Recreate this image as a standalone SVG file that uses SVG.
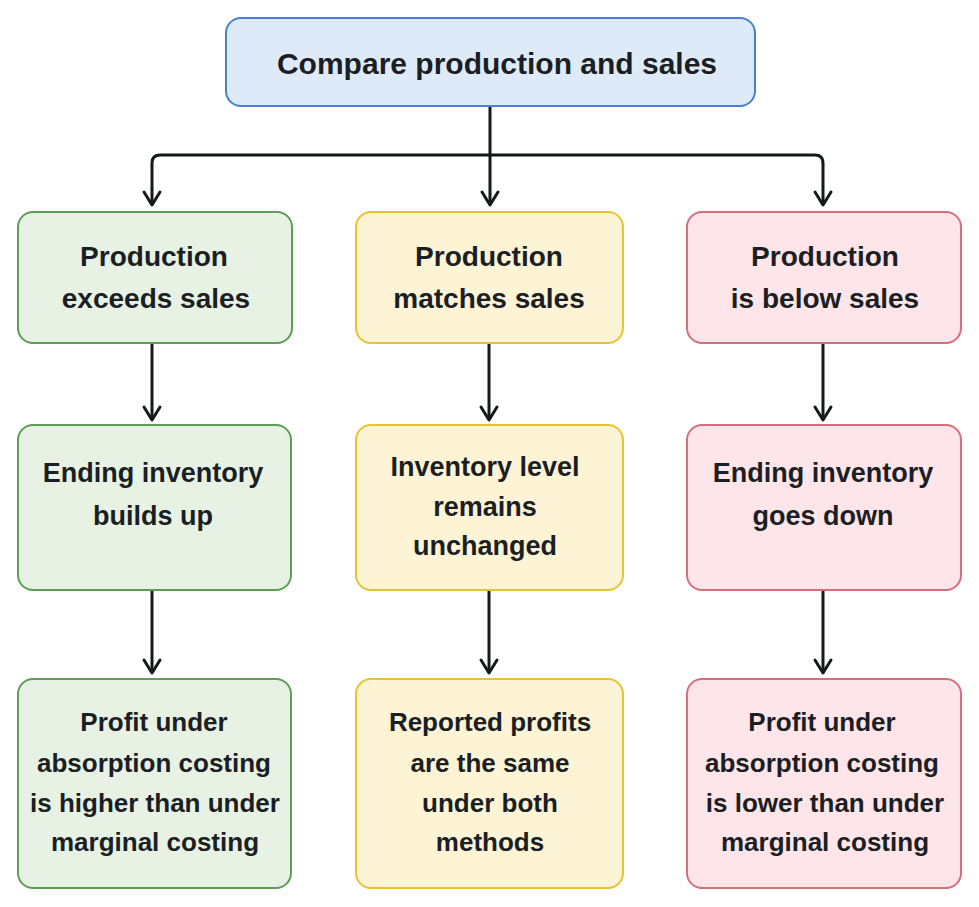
<svg xmlns="http://www.w3.org/2000/svg" width="979" height="907" viewBox="0 0 979 907">
<defs>
<style>
.t{font-family:"Liberation Sans",Arial,sans-serif;font-weight:bold;fill:#1b1f24;text-anchor:middle;font-size:26px}
.big{font-size:30px}
.r1{font-size:28px}
.r2{font-size:27px}
.blue{fill:#dfeaf9;stroke:#4a80cf;stroke-width:2}
.green{fill:#e7f2e4;stroke:#5c9f52;stroke-width:2}
.yellow{fill:#fdf3d5;stroke:#e8c330;stroke-width:2}
.pink{fill:#fde5e9;stroke:#d86d7c;stroke-width:2}
.c{fill:none;stroke:#16191c;stroke-width:3;stroke-linejoin:round}
.h{fill:none;stroke:#16191c;stroke-width:3;stroke-linecap:round;stroke-linejoin:round}
</style>
</defs>
<rect width="979" height="907" fill="#ffffff"/>
<g id="connectors">
<path class="c" d="M490,106 V204"/>
<path class="c" d="M152,204 V163 Q152,155 160,155 H815 Q823,155 823,163 V204"/>
<path class="c" d="M152,343 V419"/>
<path class="c" d="M489,343 V419"/>
<path class="c" d="M823,343 V419"/>
<path class="c" d="M152,590 V672"/>
<path class="c" d="M489,590 V672"/>
<path class="c" d="M823,590 V672"/>
<path class="h" d="M144,192 L152,205 L160,192"/>
<path class="h" d="M482,192 L490,205 L498,192"/>
<path class="h" d="M815,192 L823,205 L831,192"/>
<path class="h" d="M144,407 L152,420 L160,407"/>
<path class="h" d="M481,407 L489,420 L497,407"/>
<path class="h" d="M815,407 L823,420 L831,407"/>
<path class="h" d="M144,660 L152,673 L160,660"/>
<path class="h" d="M481,660 L489,673 L497,660"/>
<path class="h" d="M815,660 L823,673 L831,660"/>
</g>
<g id="top">
<rect class="blue" x="226" y="18" width="529" height="88" rx="15"/>
<text class="t big" x="497" y="74">Compare production and sales</text>
</g>
<g id="exceeds">
<rect class="green" x="18" y="212" width="274" height="131" rx="15"/>
<text class="t r1" x="154" y="266">Production</text>
<text class="t r1" x="156" y="308">exceeds sales</text>
</g>
<g id="matches">
<rect class="yellow" x="356" y="212" width="267" height="131" rx="15"/>
<text class="t r1" x="489" y="266">Production</text>
<text class="t r1" x="489" y="308">matches sales</text>
</g>
<g id="below">
<rect class="pink" x="687" y="212" width="274" height="131" rx="15"/>
<text class="t r1" x="825" y="266">Production</text>
<text class="t r1" x="825" y="308">is below sales</text>
</g>
<g id="buildsup">
<rect class="green" x="18" y="425" width="273" height="165" rx="15"/>
<text class="t r2" x="153" y="482">Ending inventory</text>
<text class="t r2" x="153" y="525">builds up</text>
</g>
<g id="unchanged">
<rect class="yellow" x="356" y="425" width="267" height="165" rx="15"/>
<text class="t r2" x="485" y="476">Inventory level</text>
<text class="t r2" x="485" y="516">remains</text>
<text class="t r2" x="485" y="555">unchanged</text>
</g>
<g id="goesdown">
<rect class="pink" x="687" y="425" width="274" height="165" rx="15"/>
<text class="t r2" x="823" y="482">Ending inventory</text>
<text class="t r2" x="823" y="525">goes down</text>
</g>
<g id="higher">
<rect class="green" x="18" y="679" width="273" height="209" rx="15"/>
<text class="t" x="154" y="731">Profit under</text>
<text class="t" x="154" y="772">absorption costing</text>
<text class="t" x="155" y="812">is higher than under</text>
<text class="t" x="155" y="851">marginal costing</text>
</g>
<g id="same">
<rect class="yellow" x="356" y="679" width="267" height="209" rx="15"/>
<text class="t" x="490" y="731">Reported profits</text>
<text class="t" x="490" y="772">are the same</text>
<text class="t" x="490" y="812">under both</text>
<text class="t" x="490" y="851">methods</text>
</g>
<g id="lower">
<rect class="pink" x="687" y="679" width="274" height="209" rx="15"/>
<text class="t" x="822" y="731">Profit under</text>
<text class="t" x="822" y="772">absorption costing</text>
<text class="t" x="825" y="812">is lower than under</text>
<text class="t" x="825" y="851">marginal costing</text>
</g>
</svg>
